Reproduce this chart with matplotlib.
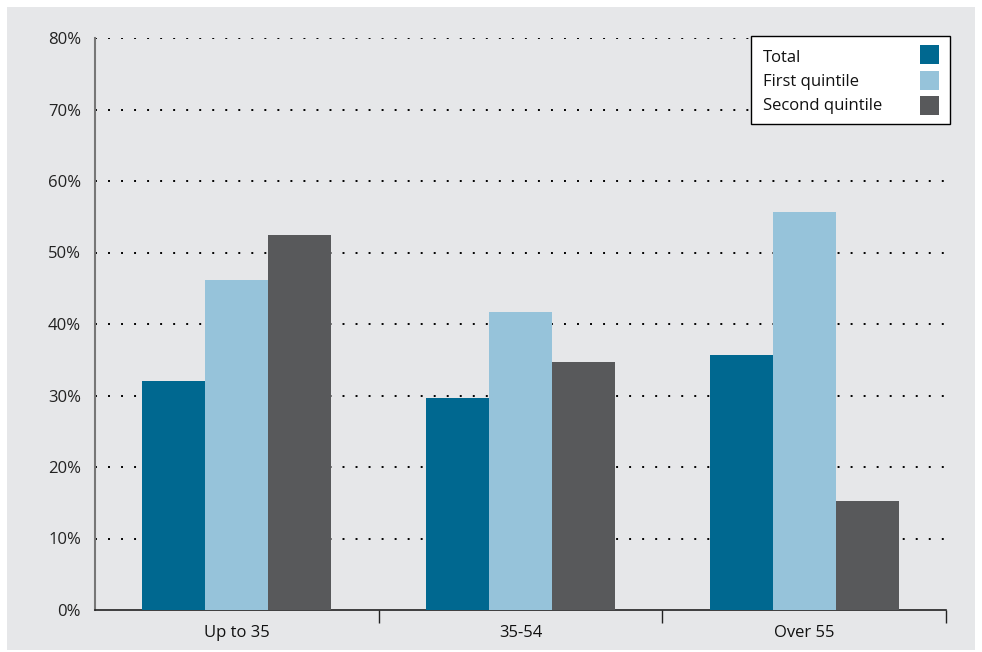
import matplotlib
matplotlib.use("Agg")
import matplotlib.pyplot as plt
import matplotlib.patches as mpatches
import numpy as np

categories = ["Up to 35", "35-54", "Over 55"]
series_names = ["Total", "First quintile", "Second quintile"]
total = [32.0, 29.7, 35.7]
first_quintile = [46.1, 41.7, 55.7]
second_quintile = [52.5, 34.7, 15.2]
y_ticks = [0, 10, 20, 30, 40, 50, 60, 70, 80]
y_tick_labels = ["0%", "10%", "20%", "30%", "40%", "50%", "60%", "70%", "80%"]

colors = ["#006890", "#96c3da", "#58595b"]
bg = "#e6e7e9"

plt.rcParams['font.family'] = ['Open Sans', 'DejaVu Sans']

W, H = 982, 652
fig = plt.figure(figsize=(W / 100, H / 100), dpi=100)
fig.patch.set_facecolor("white")
fig.patches.append(mpatches.Rectangle((7 / W, 2 / H), 968 / W, 643 / H,
                                      transform=fig.transFigure, facecolor=bg,
                                      edgecolor="none", zorder=-10))

ax = fig.add_axes([95 / W, 1 - 610 / H, (946 - 95) / W, (610 - 38) / H])
ax.patch.set_alpha(0)

x = np.arange(len(categories))
w = 0.222
for i, (vals, name) in enumerate(zip([total, first_quintile, second_quintile], series_names)):
    ax.bar(x + (i - 1) * w, vals, width=w, color=colors[i], zorder=3, label=name,
           edgecolor="none")

ax.set_xlim(-0.5, 2.5)
ax.set_ylim(0, 80)
ax.set_yticks(y_ticks)
ax.set_yticklabels(y_tick_labels, fontsize=12, color="#222222")
ax.tick_params(axis='y', length=0, pad=10)

for yv in y_ticks[1:]:
    ax.axhline(yv, color="black", linestyle=(0, (1, 5.7)), linewidth=1.4, zorder=1,
               dash_capstyle='butt')

ax.set_xticks([0.5, 1.5, 2.5])
ax.set_xticklabels([])
ax.tick_params(axis='x', which='major', length=9, width=1, color="#222222", direction='out')
ax.set_xticks(x, minor=True)
ax.set_xticklabels(categories, minor=True, fontsize=12, color="#111111")
ax.tick_params(axis='x', which='minor', length=0, pad=11)

for s in ["top", "right"]:
    ax.spines[s].set_visible(False)
ax.spines["left"].set_color("#777777")
ax.spines["left"].set_linewidth(1.5)
ax.spines["bottom"].set_color("#222222")
ax.spines["bottom"].set_linewidth(1.2)

# manual legend (text left-aligned, swatches on right)
fig.patches.append(mpatches.Rectangle((751 / W, 1 - 124 / H), 199 / W, 88 / H,
                                      transform=fig.transFigure, facecolor="white",
                                      edgecolor="black", linewidth=1.0, zorder=5))
swatch_tops = [45, 71, 96]
text_centers = [58, 82, 106]
for name, c, st, tc in zip(series_names, colors, swatch_tops, text_centers):
    fig.patches.append(mpatches.Rectangle((920 / W, 1 - (st + 19) / H), 19 / W, 19 / H,
                                          transform=fig.transFigure, facecolor=c,
                                          edgecolor="none", zorder=6))
    fig.text(763 / W, 1 - tc / H, name, fontsize=12, color="#111111",
             ha="left", va="center", zorder=7)

fig.savefig("out.png", dpi=100)
